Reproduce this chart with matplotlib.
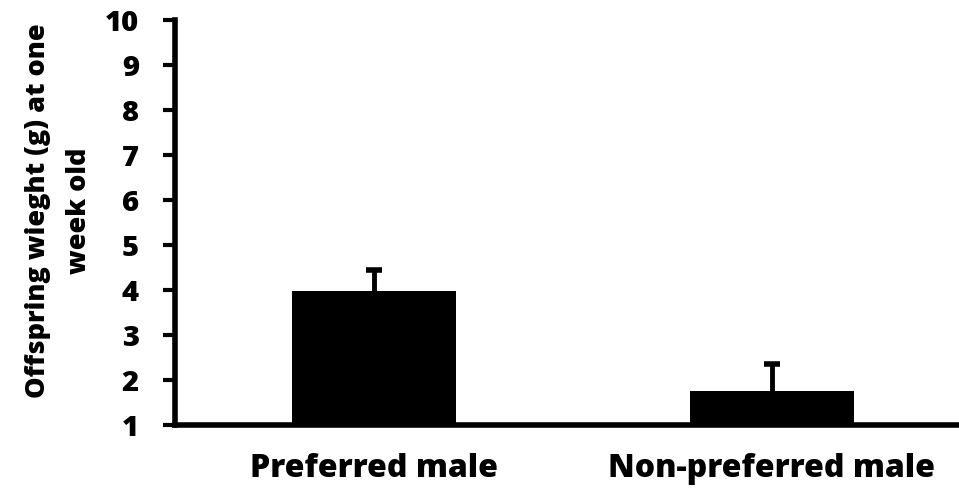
import numpy as np
import matplotlib.pyplot as plt

plt.rcParams['font.family'] = ['Open Sans', 'DejaVu Sans']

categories = ['Preferred male', 'Non-preferred male']
means = [3.97, 1.76]
errs = [0.47, 0.59]
yticks = [1, 2, 3, 4, 5, 6, 7, 8, 9, 10]

fig = plt.figure(figsize=(9.59, 4.91), dpi=100)
ax = fig.add_axes([175/959, 66/491, 1 - 175/959, 405/491])

x = np.arange(len(categories))
# error bars drawn below the bars so only the upper half shows
ax.errorbar(x, means, yerr=errs, fmt='none', ecolor='black', elinewidth=3.5,
            capsize=6, capthick=4, zorder=1)
ax.bar(x, np.array(means) - 1, bottom=1, width=0.41, color='black', zorder=2)

ax.set_xlim(-0.5, 1.47)
ax.set_ylim(1, 10)
ax.set_yticks(yticks)
ax.set_xticks(x)
ax.set_xticklabels(categories, fontsize=23, fontweight='heavy')
ax.tick_params(axis='y', labelsize=21, width=3, length=9, direction='out', pad=17)
ax.tick_params(axis='x', length=0, pad=20)
for lab in ax.get_yticklabels():
    lab.set_fontweight('heavy')

for s in ['top', 'right']:
    ax.spines[s].set_visible(False)
ax.spines['left'].set_linewidth(4)
ax.spines['bottom'].set_linewidth(4)

ax.set_ylabel('Offspring wieght (g) at one\nweek old', fontsize=19.5,
              fontweight='heavy', linespacing=1.75, labelpad=9)
ax.yaxis.label.set_y(0.53)

fig.savefig('out.png', dpi=100)
